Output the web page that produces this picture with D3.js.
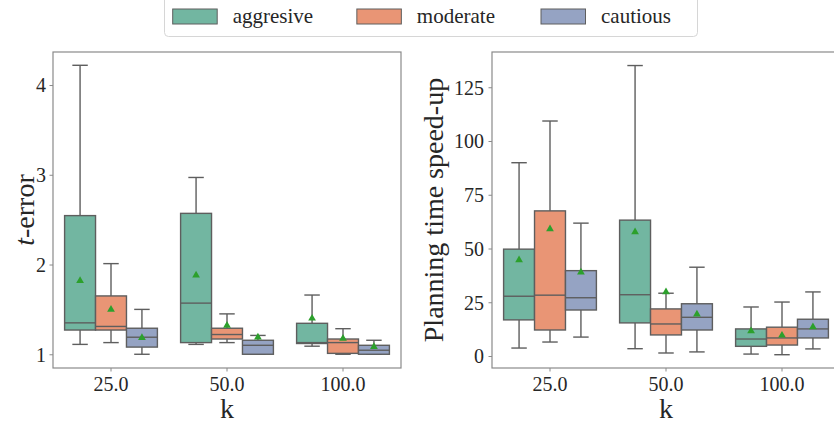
<!DOCTYPE html>
<html>
<head>
<meta charset="utf-8">
<script src="https://cdn.jsdelivr.net/npm/d3@7"></script>
<style>
  body { margin: 0; background: #fff; }
  svg { display: block; }
</style>
</head>
<body>
<svg id="chart" width="834" height="424" font-family="'Liberation Serif', 'DejaVu Serif', serif"></svg>
<script>
// ---------------- data ----------------
const categories = ["25.0", "50.0", "100.0"];
const seriesNames = ["aggresive", "moderate", "cautious"];
const seriesColors = ["#72b6a1", "#e99575", "#95a3c3"];

// each row: [whiskerLow, q1, median, q3, whiskerHigh, mean], one row per k
const tErrorAggresive = [[1.11, 1.27, 1.35, 2.545, 4.22, 1.82], [1.11, 1.13, 1.57, 2.57, 2.97, 1.88], [1.09, 1.12, 1.13, 1.345, 1.66, 1.40]];
const tErrorModerate  = [[1.13, 1.27, 1.31, 1.65, 2.01, 1.50], [1.13, 1.17, 1.22, 1.29, 1.45, 1.32], [1.00, 1.01, 1.13, 1.17, 1.285, 1.175]];
const tErrorCautious  = [[1.00, 1.08, 1.19, 1.29, 1.50, 1.185], [1.00, 1.00, 1.10, 1.156, 1.21, 1.19], [1.00, 1.00, 1.045, 1.10, 1.156, 1.085]];

const speedAggresive = [[3.7, 16.8, 27.8, 49.7, 89.9, 44.7], [3.4, 15.4, 28.5, 63.2, 135.1, 57.7], [0.9, 4.5, 7.9, 12.6, 22.8, 11.6]];
const speedModerate  = [[6.5, 12.1, 28.3, 67.5, 109.3, 59.1], [1.4, 9.8, 14.9, 21.9, 29.2, 29.8], [0.6, 5.1, 8.4, 13.4, 25.1, 9.6]];
const speedCautious  = [[8.8, 21.4, 27.1, 39.7, 61.8, 39.0], [1.9, 12.1, 18.0, 24.3, 41.3, 19.4], [3.3, 8.4, 12.6, 17.1, 29.8, 13.5]];

const tErrorTicks = [1, 2, 3, 4];
const speedTicks = [0, 25, 50, 75, 100, 125];

// ---------------- drawing ----------------
const FONT = "'Liberation Serif', 'DejaVu Serif', serif";
const svg = d3.select("#chart");
const lineColor = "#5e5e5e";
const spineColor = "#8a8a8a";
const textColor = "#262626";
const meanColor = "#2ca02c";

function panel(opts) {
  const { x0, x1, y0, y1, domain, ticks, data, ylabel, ylabelX, tickLabelX } = opts;
  const g = svg.append("g");
  const x = d3.scaleBand().domain(categories).range([x0, x1]).padding(0);
  const hue = d3.scaleBand().domain(seriesNames).range([0, x.bandwidth() * 0.8]).padding(0);
  const y = d3.scaleLinear().domain(domain).range([y1, y0]);

  // frame
  g.append("rect").attr("x", x0).attr("y", y0).attr("width", x1 - x0).attr("height", y1 - y0)
    .attr("fill", "none").attr("stroke", spineColor).attr("stroke-width", 1.2);

  // y axis
  const yAxis = d3.axisLeft(y).tickValues(ticks).tickSize(3.5).tickPadding(3).tickFormat(d3.format("d"));
  const ya = g.append("g").attr("transform", `translate(${x0},0)`).call(yAxis);
  ya.attr("font-family", FONT);
  ya.select(".domain").remove();
  ya.selectAll(".tick line").attr("stroke", spineColor);
  ya.selectAll(".tick text").attr("fill", textColor).style("font-size", "20px").style("font-family", FONT)
    .attr("x", tickLabelX - x0).attr("dy", "0.34em");

  // x axis
  const xAxis = d3.axisBottom(x).tickSize(3.5).tickPadding(5);
  const xa = g.append("g").attr("transform", `translate(0,${y1})`).call(xAxis);
  xa.attr("font-family", FONT);
  xa.select(".domain").remove();
  xa.selectAll(".tick line").attr("stroke", spineColor);
  xa.selectAll(".tick text").attr("fill", textColor).style("font-size", "20px").style("font-family", FONT)
    .attr("dy", "0.71em");

  const groupOffset = x.bandwidth() * 0.1;
  seriesNames.forEach((s, si) => {
    data[si].forEach((st, ci) => {
      const [lo, q1, med, q3, hi, mean] = st;
      const bx = x(categories[ci]) + groupOffset + hue(s);
      const bw = hue.bandwidth();
      const cx = bx + bw / 2;
      const capW = bw / 2;
      const bg = g.append("g");
      bg.append("line").attr("x1", cx).attr("x2", cx).attr("y1", y(q3)).attr("y2", y(hi))
        .attr("stroke", lineColor).attr("stroke-width", 1.4);
      bg.append("line").attr("x1", cx).attr("x2", cx).attr("y1", y(q1)).attr("y2", y(lo))
        .attr("stroke", lineColor).attr("stroke-width", 1.4);
      bg.append("line").attr("x1", cx - capW / 2).attr("x2", cx + capW / 2).attr("y1", y(hi)).attr("y2", y(hi))
        .attr("stroke", lineColor).attr("stroke-width", 1.4);
      bg.append("line").attr("x1", cx - capW / 2).attr("x2", cx + capW / 2).attr("y1", y(lo)).attr("y2", y(lo))
        .attr("stroke", lineColor).attr("stroke-width", 1.4);
      bg.append("rect").attr("x", bx).attr("y", y(q3)).attr("width", bw).attr("height", Math.max(0, y(q1) - y(q3)))
        .attr("fill", seriesColors[si]).attr("stroke", lineColor).attr("stroke-width", 1.4);
      bg.append("line").attr("x1", bx).attr("x2", bx + bw).attr("y1", y(med)).attr("y2", y(med))
        .attr("stroke", lineColor).attr("stroke-width", 1.4);
      bg.append("path").attr("d", d3.symbol(d3.symbolTriangle, 26)())
        .attr("transform", `translate(${cx},${y(mean)})`).attr("fill", meanColor);
    });
  });

  // labels
  g.append("text").attr("transform", `translate(${ylabelX},${(y0 + y1) / 2}) rotate(-90)`)
    .attr("text-anchor", "middle").attr("fill", textColor).style("font-size", "28px").style("font-family", FONT)
    .call(t => {
      if (ylabel === "t-error") {
        t.append("tspan").style("font-style", "italic").text("t");
        t.append("tspan").text("-error");
      } else {
        t.text(ylabel);
      }
    });
  g.append("text").attr("x", (x0 + x1) / 2).attr("y", 418).attr("text-anchor", "middle")
    .attr("fill", textColor).style("font-size", "28px").style("font-family", FONT).text("k");
}

panel({ x0: 53, x1: 401, y0: 52, y1: 368, domain: [0.847, 4.368], ticks: tErrorTicks,
  data: [tErrorAggresive, tErrorModerate, tErrorCautious], ylabel: "t-error", ylabelX: 34, tickLabelX: 46 });
panel({ x0: 492, x1: 840, y0: 52, y1: 368, domain: [-5.58, 141.4], ticks: speedTicks,
  data: [speedAggresive, speedModerate, speedCautious], ylabel: "Planning time speed-up", ylabelX: 443, tickLabelX: 484 });

// legend
const leg = svg.append("g");
leg.append("rect").attr("x", 164.5).attr("y", -4).attr("width", 533).attr("height", 40.5).attr("rx", 4)
  .attr("fill", "#fff").attr("stroke", "#d6d6d6").attr("stroke-width", 1);
const legX = d3.scalePoint().domain(seriesNames).range([172.7, 541]);
seriesNames.forEach((s, i) => {
  const lx = legX(s);
  leg.append("rect").attr("x", lx).attr("y", 9).attr("width", 44.5).attr("height", 15)
    .attr("fill", seriesColors[i]).attr("stroke", lineColor).attr("stroke-width", 1);
  leg.append("text").attr("x", lx + 60).attr("y", 23).attr("fill", textColor)
    .style("font-size", "21px").style("font-family", FONT).text(s);
});
</script>
</body>
</html>
